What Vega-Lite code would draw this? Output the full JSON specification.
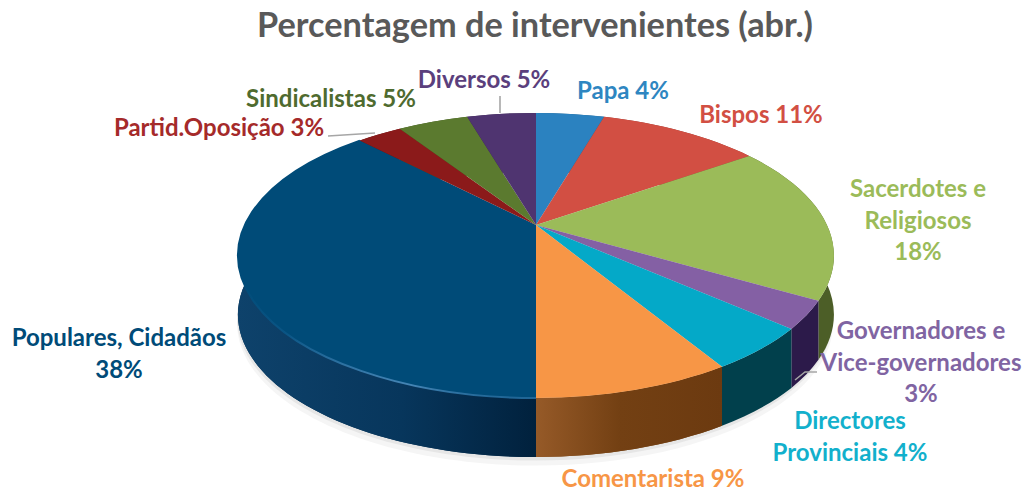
{"$schema":"https://vega.github.io/schema/vega-lite/v6.json","width":1026,"height":493,"padding":0,"autosize":"none","background":"white",
"title":{"text":"Percentagem de intervenientes (abr.)","font":"Lato","fontSize":34.3,"fontWeight":"bold","color":"#595959","anchor":"middle","offset":-44,"dx":22},
"config":{"view":{"stroke":null}},
"data":{"values":[
{"ordem":1,"nome":"Papa","pct":4.55,"rotulo":"Papa 4%"},
{"ordem":2,"nome":"Bispos","pct":10.8,"rotulo":"Bispos 11%"},
{"ordem":3,"nome":"Sacerdotes e Religiosos","pct":17.95,"rotulo":"Sacerdotes e\nReligiosos\n18%"},
{"ordem":4,"nome":"Governadores e Vice-governadores","pct":3.1,"rotulo":"Governadores e\nVice-governadores\n3%"},
{"ordem":5,"nome":"Directores Provinciais","pct":4.85,"rotulo":"Directores\nProvinciais 4%"},
{"ordem":6,"nome":"Comentarista","pct":8.75,"rotulo":"Comentarista 9%"},
{"ordem":7,"nome":"Populares, Cidadãos","pct":37.7,"rotulo":"Populares, Cidadãos\n38%"},
{"ordem":8,"nome":"Partid.Oposição","pct":3.0,"rotulo":"Partid.Oposição 3%"},
{"ordem":9,"nome":"Sindicalistas","pct":4.7,"rotulo":"Sindicalistas 5%"},
{"ordem":10,"nome":"Diversos","pct":4.6,"rotulo":"Diversos 5%"}
]},
"transform":[
{"window":[{"op":"sum","field":"pct","as":"acum"}],"sort":[{"field":"ordem","order":"ascending"}]},
{"calculate":"2*PI*(datum.acum-datum.pct)/100","as":"t0"},
{"calculate":"2*PI*datum.acum/100","as":"t1"},
{"calculate":"round(29100*sin(datum.t0)/(1+0.214*cos(datum.t0)))/100","as":"x0"},
{"calculate":"round(-13600*cos(datum.t0)/(1+0.214*cos(datum.t0)))/100","as":"y0"},
{"calculate":"round(29100*sin(datum.t1)/(1+0.214*cos(datum.t1)))/100","as":"x1"},
{"calculate":"round(-13600*cos(datum.t1)/(1+0.214*cos(datum.t1)))/100","as":"y1"},
{"calculate":"'M0,0L'+datum.x0+','+datum.y0+'A298,142.5 0 0 1 '+datum.x1+','+datum.y1+'Z'","as":"topo"},
{"calculate":"'M'+datum.x0+','+datum.y0+'A298,142.5 0 0 1 '+datum.x1+','+datum.y1+'L'+datum.x1+','+(datum.y1+59)+'A298,142.5 0 0 0 '+datum.x0+','+(datum.y0+59)+'Z'","as":"lateral"},
{"calculate":"'M'+datum.x0+','+datum.y0+'A298,142.5 0 0 1 '+datum.x1+','+datum.y1","as":"borda"}
],
"resolve":{"scale":{"x":"independent","y":"independent","color":"independent"}},
"layer":[
{"transform":[{"filter":"datum.ordem===1"}],
 "mark":{"type":"point","filled":true,"opacity":0.06,"fill":"#555555","stroke":null,"size":4,"shape":"M-298,0A298,142.5 0 1 1 298,0A298,142.5 0 1 1 -298,0Z"},
 "encoding":{"x":{"datum":535,"scale":{"domain":[0,1026]},"axis":null},"y":{"datum":323,"scale":{"domain":[0,493],"reverse":true},"axis":null}}},
{"transform":[{"filter":"datum.ordem===1"}],
 "mark":{"type":"point","filled":true,"opacity":0.09,"fill":"#555555","stroke":null,"size":4,"shape":"M-298,0A298,142.5 0 1 1 298,0A298,142.5 0 1 1 -298,0Z"},
 "encoding":{"x":{"datum":535,"scale":{"domain":[0,1026]},"axis":null},"y":{"datum":318,"scale":{"domain":[0,493],"reverse":true},"axis":null}}},
{"mark":{"type":"point","filled":true,"opacity":1,"size":4,"strokeWidth":0},
 "encoding":{"x":{"datum":536,"scale":{"domain":[0,1026]},"axis":null},"y":{"datum":225,"scale":{"domain":[0,493],"reverse":true},"axis":null},
 "shape":{"field":"lateral","type":"nominal","scale":null,"legend":null},
 "color":{"field":"nome","type":"nominal","legend":null,"scale":{"domain":["Papa","Bispos","Sacerdotes e Religiosos","Governadores e Vice-governadores","Directores Provinciais","Comentarista","Populares, Cidadãos","Partid.Oposição","Sindicalistas","Diversos"],"range":["#1c5a84","#8f352d","#4c5e27","#2c1a4a","#01404c","#7a4a1a","#012f52","#5e1212","#3d521f","#35234c"]}}}},
{"transform":[{"filter":"datum.ordem===6"}],
 "mark":{"type":"point","filled":true,"opacity":1,"size":4,"strokeWidth":0,"fill":{"x1":1,"y1":0,"x2":0,"y2":0,"gradient":"linear","stops":[{"offset":0,"color":"#6c3a10"},{"offset":0.55,"color":"#734013"},{"offset":1,"color":"#965a28"}]}},
 "encoding":{"x":{"datum":536,"scale":{"domain":[0,1026]},"axis":null},"y":{"datum":225,"scale":{"domain":[0,493],"reverse":true},"axis":null},
 "shape":{"field":"lateral","type":"nominal","scale":null,"legend":null}}},
{"transform":[{"filter":"datum.ordem===7"}],
 "mark":{"type":"point","filled":true,"opacity":1,"size":4,"strokeWidth":0,"fill":{"x1":0,"y1":0,"x2":1,"y2":0,"gradient":"linear","stops":[{"offset":0,"color":"#0e426b"},{"offset":0.55,"color":"#07365c"},{"offset":1,"color":"#01213d"}]}},
 "encoding":{"x":{"datum":536,"scale":{"domain":[0,1026]},"axis":null},"y":{"datum":225,"scale":{"domain":[0,493],"reverse":true},"axis":null},
 "shape":{"field":"lateral","type":"nominal","scale":null,"legend":null}}},
{"mark":{"type":"point","filled":true,"opacity":1,"size":4,"strokeWidth":0},
 "encoding":{"x":{"datum":536,"scale":{"domain":[0,1026]},"axis":null},"y":{"datum":225,"scale":{"domain":[0,493],"reverse":true},"axis":null},
 "shape":{"field":"topo","type":"nominal","scale":null,"legend":null},
 "color":{"field":"nome","type":"nominal","legend":null,"scale":{"domain":["Papa","Bispos","Sacerdotes e Religiosos","Governadores e Vice-governadores","Directores Provinciais","Comentarista","Populares, Cidadãos","Partid.Oposição","Sindicalistas","Diversos"],"range":["#2b82c0","#d24f43","#9bbb59","#8460a4","#04a9c8","#f79646","#004b78","#8b1a1a","#5b7a2f","#4f3470"]}}}},
{"transform":[{"filter":"datum.ordem===7"}],
 "mark":{"type":"point","filled":false,"opacity":1,"size":4,"strokeWidth":2,"fill":null,"stroke":{"x1":0,"y1":0,"x2":0,"y2":1,"gradient":"linear","stops":[{"offset":0,"color":"#004b78"},{"offset":0.55,"color":"#004b78"},{"offset":0.75,"color":"#0a5585"},{"offset":0.95,"color":"#4585b5"},{"offset":1,"color":"#1f6595"}]}},
 "encoding":{"x":{"datum":536,"scale":{"domain":[0,1026]},"axis":null},"y":{"datum":225,"scale":{"domain":[0,493],"reverse":true},"axis":null},
 "shape":{"field":"borda","type":"nominal","scale":null,"legend":null}}},
{"transform":[{"filter":"datum.ordem===8||datum.ordem===10||datum.ordem===4"}],
 "mark":{"type":"point","filled":false,"opacity":1,"size":4,"strokeWidth":1.6,"stroke":"#a6a6a6"},
 "encoding":{
 "x":{"field":"ordem","type":"quantitative","axis":null,"scale":{"domain":[4,8,10],"range":[817,328,500]}},
 "y":{"field":"ordem","type":"quantitative","axis":null,"scale":{"domain":[4,8,10],"range":[372,136,96]}},
 "shape":{"field":"nome","type":"nominal","legend":null,"scale":{"domain":["Partid.Oposição","Diversos","Governadores e Vice-governadores"],"range":["M0,0L47,-3","M0,0L0,17","M0,0L-12,0L-22,8"]}}}},
{"mark":{"type":"text","font":"Lato","fontWeight":"bold","fontSize":24,"lineHeight":31.5,"lineBreak":"\n","align":"center","baseline":"middle"},
 "encoding":{"text":{"field":"rotulo"},
 "x":{"field":"ordem","type":"quantitative","axis":null,"scale":{"domain":[1,2,3,4,5,6,7,8,9,10],"range":[623,761,918,921,850,653,119,219,331,484]}},
 "y":{"field":"ordem","type":"quantitative","axis":null,"scale":{"domain":[1,2,3,4,5,6,7,8,9,10],"range":[92,116,190,332,422,480,339,129,100,81]}},
 "color":{"field":"nome","type":"nominal","legend":null,"scale":{"domain":["Papa","Bispos","Sacerdotes e Religiosos","Governadores e Vice-governadores","Directores Provinciais","Comentarista","Populares, Cidadãos","Partid.Oposição","Sindicalistas","Diversos"],"range":["#2e86c1","#d24f43","#9bbb59","#8064a2","#12b0cc","#f79646","#004b78","#a52a2a","#4f6b2f","#5b3f7d"]}}}}
]}
